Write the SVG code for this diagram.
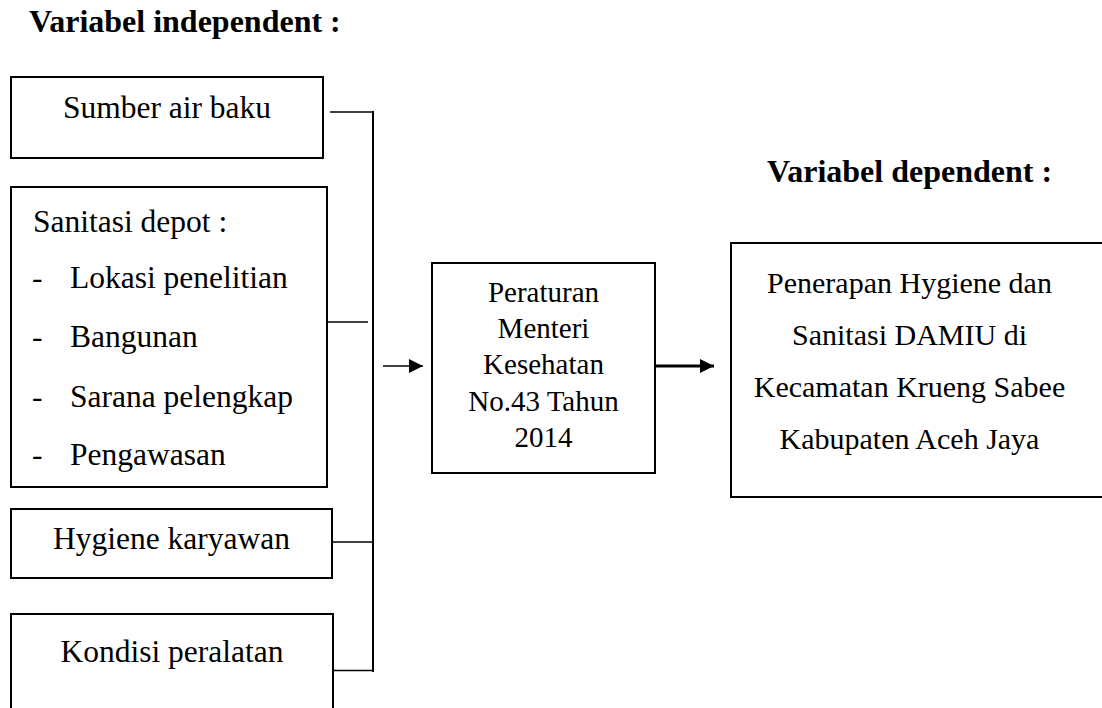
<svg xmlns="http://www.w3.org/2000/svg" width="1102" height="708" viewBox="0 0 1102 708">
<style>
.box{fill:#fff;stroke:#000;stroke-width:2}
.t{font-family:"Liberation Serif","Times New Roman",serif;fill:#000}
.l{font-size:31.5px}
.c{text-anchor:middle}
.h{font-size:32px;font-weight:bold}
.ln{stroke:#000;stroke-width:1.5;fill:none}
</style>
<defs>
<marker id="ah" viewBox="0 0 10 10" refX="10" refY="5" markerWidth="15" markerHeight="14" markerUnits="userSpaceOnUse" orient="auto"><path d="M0,0 L10,5 L0,10 Z" fill="#000"/></marker>
</defs>
<text class="t h" x="29" y="32">Variabel independent :</text>
<text class="t h" x="767" y="182">Variabel dependent :</text>
<g id="n1"><rect class="box" x="11" y="77" width="312" height="81"/><text class="t l c" x="167" y="118">Sumber air baku</text></g>
<g id="n2"><rect class="box" x="11" y="187" width="316" height="300"/>
<text class="t l" x="33" y="232">Sanitasi depot :</text>
<text class="t l" x="32" y="288">-</text><text class="t l" x="70" y="288">Lokasi penelitian</text>
<text class="t l" x="32" y="347">-</text><text class="t l" x="70" y="347">Bangunan</text>
<text class="t l" x="32" y="407">-</text><text class="t l" x="70" y="407">Sarana pelengkap</text>
<text class="t l" x="32" y="465">-</text><text class="t l" x="70" y="465">Pengawasan</text></g>
<g id="n3"><rect class="box" x="11" y="509" width="321" height="69"/><text class="t l c" x="171.5" y="549">Hygiene karyawan</text></g>
<g id="n4"><rect class="box" x="11" y="614" width="322" height="120"/><text class="t l c" x="172" y="662">Kondisi peralatan</text></g>
<g id="n5"><rect class="box" x="432" y="263" width="223" height="210"/>
<g class="t c" font-size="29"><text x="543.5" y="302">Peraturan</text><text x="543.5" y="338">Menteri</text><text x="543.5" y="374">Kesehatan</text><text x="543.5" y="411">No.43 Tahun</text><text x="543.5" y="447">2014</text></g></g>
<g id="n6"><rect class="box" x="731" y="243" width="390" height="254"/>
<g class="t c" font-size="30"><text x="909.5" y="293">Penerapan Hygiene dan</text><text x="909.5" y="345">Sanitasi DAMIU di</text><text x="909.5" y="397">Kecamatan Krueng Sabee</text><text x="909.5" y="449">Kabupaten Aceh Jaya</text></g></g>
<g id="connectors">
<line x1="373" y1="111" x2="373" y2="672" stroke="#000" stroke-width="2"/>
<line class="ln" x1="330" y1="112" x2="373" y2="112"/>
<line class="ln" x1="328" y1="322" x2="368" y2="322"/>
<line class="ln" x1="332" y1="542" x2="373" y2="542"/>
<line class="ln" x1="333" y1="670.5" x2="373" y2="670.5"/>
<line class="ln" x1="383" y1="366" x2="423" y2="366" marker-end="url(#ah)"/>
<line x1="656" y1="366" x2="714" y2="366" stroke="#000" stroke-width="3" marker-end="url(#ah)"/>
</g>
</svg>
